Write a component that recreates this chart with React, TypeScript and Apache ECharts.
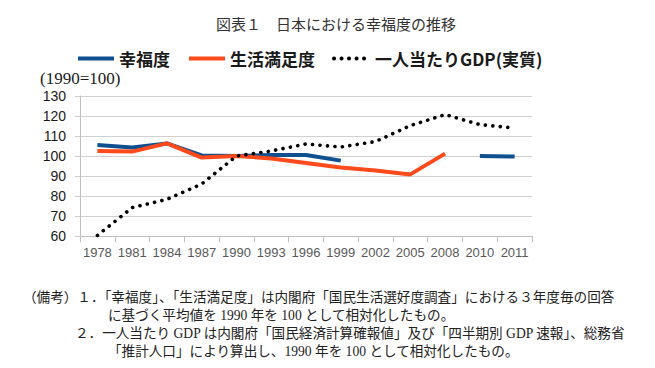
import React, { useEffect, useRef } from "react";
import * as echarts from "echarts";

const years = ["1978", "1981", "1984", "1987", "1990", "1993", "1996", "1999", "2002", "2005", "2008", "2010", "2011"];
const happiness = [105.5, 104.3, 106.3, 100.3, 100, 100.5, 100.5, 97.7, null, null, null, 100, 99.7];
const satisfaction = [102.5, 102.2, 106.3, 99.2, 100, 98.8, 96.5, 94.2, 92.8, 90.8, 101.2, null, null];
const gdp = [60.3, 74.2, 78.3, 86, 100, 102.5, 106, 104.5, 107.2, 115.2, 120.7, 115.7, 114];
const seriesNames = ["幸福度", "生活満足度", "一人当たりGDP(実質)"];
const yTicks = { min: 60, max: 130, interval: 10 };

const titleText = "図表１　日本における幸福度の推移";
const unitText = "(1990=100)";
const notes = [
  "（備考）１．「幸福度」、「生活満足度」は内閣府「国民生活選好度調査」における３年度毎の回答",
  "に基づく平均値を 1990 年を 100 として相対化したもの。",
  "２．一人当たり GDP は内閣府「国民経済計算確報値」及び「四半期別 GDP 速報」、総務省",
  "「推計人口」により算出し、1990 年を 100 として相対化したもの。",
];

const SERIF = "'Liberation Serif', 'Noto Sans CJK JP', serif";
const SANS = "'Liberation Sans', Arial, sans-serif";
const CJK = "'Noto Sans CJK JP', sans-serif";

export default function App() {
  const ref = useRef<HTMLDivElement>(null);
  useEffect(() => {
    if (!ref.current) return;
    const chart = echarts.init(ref.current, undefined, { renderer: "svg" });
    const noteX = [23, 108, 75, 108];
    const noteY = [297, 315.5, 333.5, 351.5];
    chart.setOption({
      animation: false,
      backgroundColor: "#ffffff",
      grid: { left: 80, right: 123, top: 96, bottom: 132, containLabel: false },
      legend: {
        left: 71,
        top: 45,
        itemWidth: 36,
        itemHeight: 14,
        itemGap: 17,
        itemStyle: { opacity: 0 },
        lineStyle: { width: 4 },
        textStyle: { fontFamily: CJK, fontSize: 17, fontWeight: "bold", color: "#1a1a1a" },
        data: seriesNames,
      },
      xAxis: {
        type: "category",
        data: years,
        boundaryGap: true,
        axisLine: { show: true, lineStyle: { color: "#bfbfbf", width: 1 } },
        axisTick: { show: true, length: 6, lineStyle: { color: "#bfbfbf" } },
        axisLabel: { interval: 0, fontFamily: SANS, fontSize: 13, color: "#595959", margin: 10 },
      },
      yAxis: {
        type: "value",
        min: yTicks.min,
        max: yTicks.max,
        interval: yTicks.interval,
        axisLine: { show: true, lineStyle: { color: "#bfbfbf", width: 1 } },
        axisTick: { show: true, length: 5, lineStyle: { color: "#d0d0d0" } },
        splitLine: { show: true, lineStyle: { color: "#d0d0d0", width: 1 } },
        axisLabel: { fontFamily: SANS, fontSize: 14, color: "#1a1a1a", margin: 14 },
      },
      series: [
        {
          name: seriesNames[0],
          type: "line",
          data: happiness,
          symbol: "none",
          connectNulls: false,
          lineStyle: { color: "#11508f", width: 4 },
          itemStyle: { color: "#11508f" },
          z: 3,
        },
        {
          name: seriesNames[1],
          type: "line",
          data: satisfaction,
          symbol: "none",
          connectNulls: false,
          lineStyle: { color: "#fe4a1c", width: 4 },
          itemStyle: { color: "#fe4a1c" },
          z: 4,
        },
        {
          name: seriesNames[2],
          type: "line",
          data: gdp,
          symbol: "none",
          lineStyle: { color: "#000000", width: 3.6, type: [0.1, 7.4], cap: "round" },
          itemStyle: { color: "#000000" },
          z: 5,
        },
      ],
      graphic: [
        {
          type: "text",
          x: 336,
          y: 25,
          style: {
            text: titleText,
            fontFamily: SERIF,
            fontSize: 15,
            fill: "#333333",
            textAlign: "center",
            textVerticalAlign: "middle",
          },
        },
        {
          type: "text",
          x: 40,
          y: 78,
          style: {
            text: unitText,
            fontFamily: SERIF,
            fontSize: 17,
            fill: "#1a1a1a",
            textAlign: "left",
            textVerticalAlign: "middle",
          },
        },
        ...notes.map((t, i) => ({
          type: "text",
          x: noteX[i],
          y: noteY[i],
          style: {
            text: t,
            fontFamily: SERIF,
            fontSize: 13.6,
            fill: "#222222",
            textAlign: "left",
            textVerticalAlign: "middle",
          },
        })),
      ],
    });
    return () => chart.dispose();
  }, []);
  return (
    <div
      ref={ref}
      style={{ position: "absolute", left: 0, top: 0, width: 655, height: 368 }}
    />
  );
}
